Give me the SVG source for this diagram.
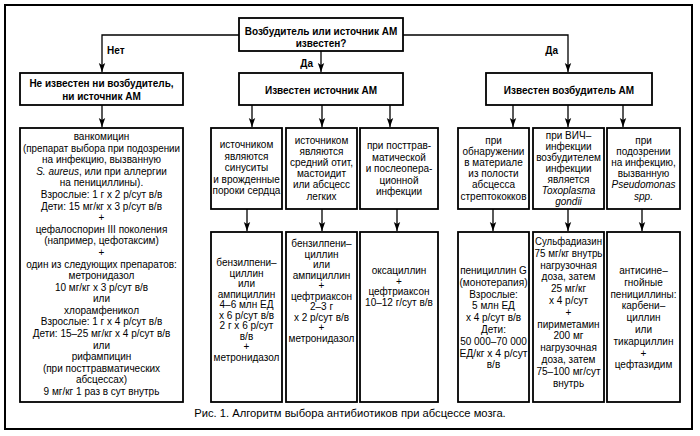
<svg xmlns="http://www.w3.org/2000/svg" width="700" height="436" viewBox="0 0 700 436">
<style>
.frame{fill:none;stroke:#000;stroke-width:2}
.box{fill:#fff;stroke:#000;stroke-width:1.8}
.con{fill:none;stroke:#000;stroke-width:1.3;marker-end:url(#ah)}
text{font-family:"Liberation Sans",Arial,sans-serif;font-size:10px;fill:#000;text-anchor:middle}
.b{font-weight:bold}
.i{font-style:italic}
.l{text-anchor:start}
.e{text-anchor:end}
.cap{font-size:11.2px}
</style>
<defs>
<marker id="ah" viewBox="0 0 9 8" markerWidth="9" markerHeight="8" refX="9" refY="4" orient="auto" markerUnits="userSpaceOnUse">
<path d="M0,0.8 L9,4 L0,7.2 L2,4 z" fill="#000"/>
</marker>
</defs>
<rect width="700" height="436" fill="#fff"/>
<rect class="frame" x="5" y="5" width="687" height="424"/>

<g id="connectors">
<path class="con" d="M239,35 H102 V72"/>
<path class="con" d="M321,51 V72"/>
<path class="con" d="M403,35 H568 V72"/>
<path class="con" d="M102,105 V127"/>
<path class="con" d="M252,105 V127"/>
<path class="con" d="M322,105 V127"/>
<path class="con" d="M390,105 V127"/>
<path class="con" d="M513,105 V127"/>
<path class="con" d="M568,105 V127"/>
<path class="con" d="M623,105 V127"/>
<path class="con" d="M247,209 V231"/>
<path class="con" d="M322,209 V231"/>
<path class="con" d="M397,209 V231"/>
<path class="con" d="M493,209 V231"/>
<path class="con" d="M568,209 V231"/>
<path class="con" d="M642,209 V231"/>
<text class="b l" x="107" y="54">Нет</text>
<text class="b e" x="313" y="67">Да</text>
<text class="b e" x="558" y="54">Да</text>
</g>

<g id="question">
<rect class="box" x="239" y="18" width="164" height="33"/>
<text class="b" x="321" y="35">Возбудитель или источник АМ</text>
<text class="b" x="321" y="46.5">известен?</text>
</g>

<g id="unknown">
<rect class="box" x="20" y="73" width="163" height="32"/>
<text class="b" x="101.5" y="87">Не известен ни возбудитель,</text>
<text class="b" x="101.5" y="100">ни источник АМ</text>
</g>

<g id="source-known">
<rect class="box" x="239" y="73" width="164" height="32"/>
<text class="b" x="321" y="93.5">Известен источник АМ</text>
</g>

<g id="pathogen-known">
<rect class="box" x="486" y="73" width="166" height="32"/>
<text class="b" x="569" y="93.5">Известен возбудитель АМ</text>
</g>

<g id="vancomycin">
<rect class="box" x="20" y="128" width="163" height="274"/>
<text x="101.5" y="140">ванкомицин</text>
<text x="101.5" y="151.6" textLength="157" lengthAdjust="spacingAndGlyphs">(препарат выбора при подозрении</text>
<text x="101.5" y="163.2">на инфекцию, вызванную</text>
<text x="101.5" y="174.8"><tspan class="i">S. aureus</tspan>, или при аллергии</text>
<text x="101.5" y="186.4">на пенициллины).</text>
<text x="101.5" y="198">Взрослые: 1 г х 2 р/сут в/в</text>
<text x="101.5" y="209.5">Дети: 15 мг/кг х 3 р/сут в/в</text>
<text x="101.5" y="221.1">+</text>
<text x="101.5" y="232.7">цефалоспорин III поколения</text>
<text x="101.5" y="244.3">(например, цефотаксим)</text>
<text x="101.5" y="255.9">+</text>
<text x="101.5" y="267.5">один из следующих препаратов:</text>
<text x="101.5" y="279.1">метронидазол</text>
<text x="101.5" y="290.7">10 мг/кг х 3 р/сут в/в</text>
<text x="101.5" y="302.3">или</text>
<text x="101.5" y="313.9">хлорамфеникол</text>
<text x="101.5" y="325.4">Взрослые: 1 г х 4 р/сут в/в</text>
<text x="101.5" y="337">Дети: 15–25 мг/кг х 4 р/сут в/в</text>
<text x="101.5" y="348.6">или</text>
<text x="101.5" y="360.2">рифампицин</text>
<text x="101.5" y="371.8">(при посттравматических</text>
<text x="101.5" y="383.4">абсцессах)</text>
<text x="101.5" y="395">9 мг/кг 1 раз в сут внутрь</text>
</g>

<g id="src-sinus">
<rect class="box" x="211" y="128" width="71" height="81"/>
<text x="246.5" y="148">источником</text>
<text x="246.5" y="159.5">являются</text>
<text x="246.5" y="171">синуситы</text>
<text x="246.5" y="182.5">и врожденные</text>
<text x="246.5" y="194">пороки сердца</text>
</g>

<g id="src-otitis">
<rect class="box" x="286" y="128" width="71" height="81"/>
<text x="321.5" y="144">источником</text>
<text x="321.5" y="155.1">являются</text>
<text x="321.5" y="166.2">средний отит,</text>
<text x="321.5" y="177.3">мастоидит</text>
<text x="321.5" y="188.4">или абсцесс</text>
<text x="321.5" y="199.5">легких</text>
</g>

<g id="src-trauma">
<rect class="box" x="360" y="128" width="78" height="81"/>
<text x="399" y="149">при посттрав-</text>
<text x="399" y="160.5">матической</text>
<text x="399" y="172">и послеопера-</text>
<text x="399" y="183.5">ционной</text>
<text x="399" y="195">инфекции</text>
</g>

<g id="pat-strep">
<rect class="box" x="458" y="128" width="71" height="81"/>
<text x="493.5" y="144">при</text>
<text x="493.5" y="155.1">обнаружении</text>
<text x="493.5" y="166.2">в материале</text>
<text x="493.5" y="177.3">из полости</text>
<text x="493.5" y="188.4">абсцесса</text>
<text x="493.5" y="199.5">стрептококков</text>
</g>

<g id="pat-hiv">
<rect class="box" x="533" y="128" width="71" height="81"/>
<text x="568.5" y="138.5">при ВИЧ–</text>
<text x="568.5" y="149.6">инфекции</text>
<text x="568.5" y="160.7">возбудителем</text>
<text x="568.5" y="171.8">инфекции</text>
<text x="568.5" y="182.9">является</text>
<text class="i" x="568.5" y="194">Toxoplasma</text>
<text class="i" x="568.5" y="205.1">gondii</text>
</g>

<g id="pat-pseudo">
<rect class="box" x="607" y="128" width="73" height="81"/>
<text x="643.5" y="144">при</text>
<text x="643.5" y="155.1">подозрении</text>
<text x="643.5" y="166.2">на инфекцию,</text>
<text x="643.5" y="177.3">вызванную</text>
<text class="i" x="643.5" y="188.4">Pseudomonas</text>
<text class="i" x="643.5" y="199.5">spp.</text>
</g>

<g id="tx-sinus">
<rect class="box" x="211" y="232" width="71" height="170"/>
<text x="246.5" y="266">бензилпени–</text>
<text x="246.5" y="276.5">циллин</text>
<text x="246.5" y="287">или</text>
<text x="246.5" y="297.5">ампициллин</text>
<text x="246.5" y="308">4–6 млн ЕД</text>
<text x="246.5" y="318.5">х 6 р/сут в/в</text>
<text x="246.5" y="329">2 г х 6 р/сут</text>
<text x="246.5" y="339.5">в/в</text>
<text x="246.5" y="350">+</text>
<text x="246.5" y="360.5">метронидазол</text>
</g>

<g id="tx-otitis">
<rect class="box" x="286" y="232" width="71" height="170"/>
<text x="321.5" y="247">бензилпени–</text>
<text x="321.5" y="257.5">циллин</text>
<text x="321.5" y="268">или</text>
<text x="321.5" y="278.5">ампициллин</text>
<text x="321.5" y="289">+</text>
<text x="321.5" y="299.5">цефтриаксон</text>
<text x="321.5" y="310">2–3 г</text>
<text x="321.5" y="320.5">х 2 р/сут в/в</text>
<text x="321.5" y="331">+</text>
<text x="321.5" y="341.5">метронидазол</text>
</g>

<g id="tx-trauma">
<rect class="box" x="360" y="232" width="78" height="170"/>
<text x="399" y="274">оксациллин</text>
<text x="399" y="284.5">+</text>
<text x="399" y="295">цефтриаксон</text>
<text x="399" y="305.5">10–12 г/сут в/в</text>
</g>

<g id="tx-strep">
<rect class="box" x="458" y="232" width="71" height="170"/>
<text x="493.5" y="274">пенициллин G</text>
<text x="493.5" y="285.8" textLength="68" lengthAdjust="spacingAndGlyphs">(монотерапия)</text>
<text x="493.5" y="297.6">Взрослые:</text>
<text x="493.5" y="309.4">5 млн ЕД</text>
<text x="493.5" y="321.2">х 4 р/сут в/в</text>
<text x="493.5" y="333">Дети:</text>
<text x="493.5" y="344.8">50 000–70 000</text>
<text x="493.5" y="356.6" textLength="68" lengthAdjust="spacingAndGlyphs">ЕД/кг х 4 р/сут</text>
<text x="493.5" y="368.4">в/в</text>
</g>

<g id="tx-hiv">
<rect class="box" x="533" y="232" width="71" height="170"/>
<text x="568.5" y="245" textLength="67" lengthAdjust="spacingAndGlyphs">Сульфадиазин</text>
<text x="568.5" y="256.8" textLength="68" lengthAdjust="spacingAndGlyphs">75 мг/кг внутрь</text>
<text x="568.5" y="268.6">нагрузочная</text>
<text x="568.5" y="280.4">доза, затем</text>
<text x="568.5" y="292.2">25 мг/кг</text>
<text x="568.5" y="304">х 4 р/сут</text>
<text x="568.5" y="315.8">+</text>
<text x="568.5" y="327.6">пириметамин</text>
<text x="568.5" y="339.4">200 мг</text>
<text x="568.5" y="351.2">нагрузочная</text>
<text x="568.5" y="363">доза, затем</text>
<text x="568.5" y="374.8">75–100 мг/сут</text>
<text x="568.5" y="386.6">внутрь</text>
</g>

<g id="tx-pseudo">
<rect class="box" x="607" y="232" width="73" height="170"/>
<text x="643.5" y="274">антисине–</text>
<text x="643.5" y="285.8">гнойные</text>
<text x="643.5" y="297.6">пенициллины:</text>
<text x="643.5" y="309.4">карбени–</text>
<text x="643.5" y="321.2">циллин</text>
<text x="643.5" y="333">или</text>
<text x="643.5" y="344.8">тикарциллин</text>
<text x="643.5" y="356.6">+</text>
<text x="643.5" y="368.4">цефтазидим</text>
</g>

<text class="cap" x="350" y="417">Рис. 1. Алгоритм выбора антибиотиков при абсцессе мозга.</text>
</svg>
